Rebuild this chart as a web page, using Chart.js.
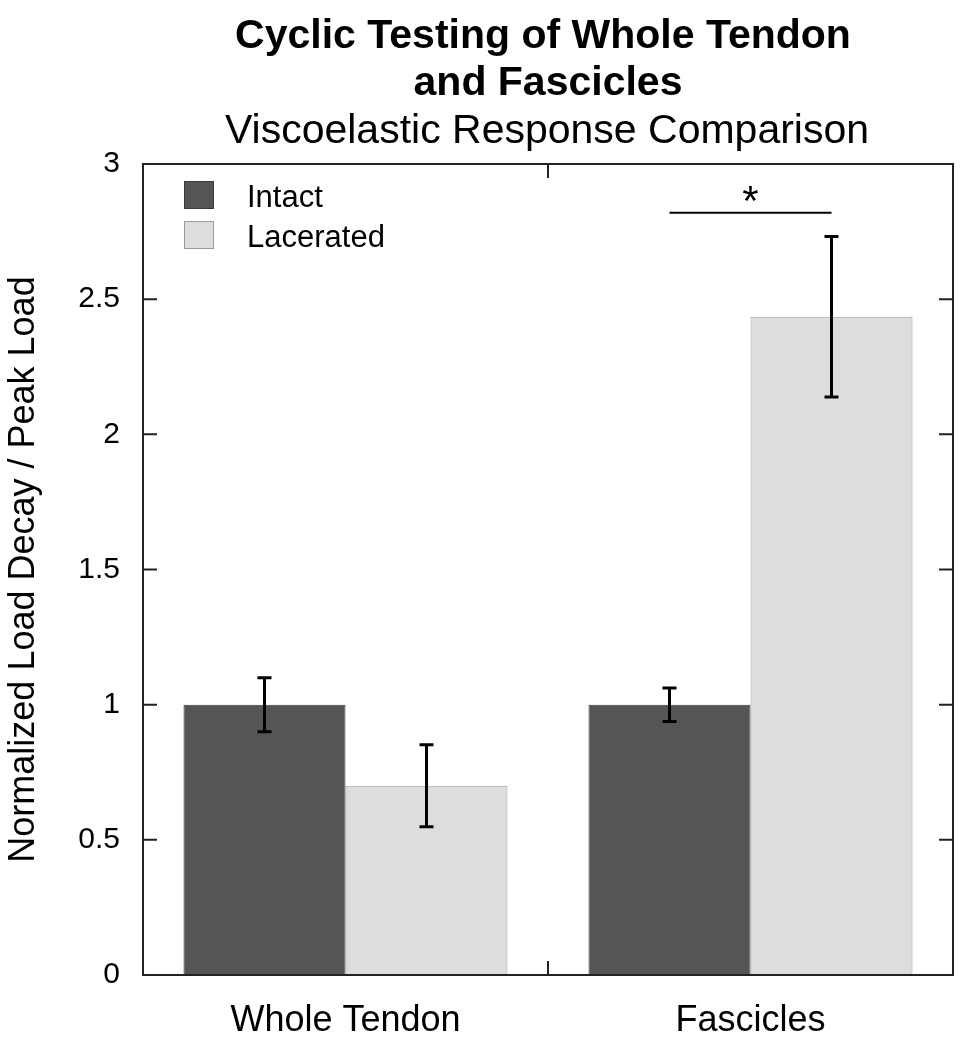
<!DOCTYPE html>
<html>
<head>
<meta charset="utf-8">
<script src="https://cdn.jsdelivr.net/npm/chart.js@4.4.0/dist/chart.umd.min.js"></script>
<style>
  html, body { margin: 0; padding: 0; background: #fff; }
  #wrap { width: 965px; height: 1050px; }
</style>
</head>
<body>
<div id="wrap"><canvas id="cyclicChart" width="965" height="1050"></canvas></div>
<script>
// data
const categories = ["Whole Tendon", "Fascicles"];
const seriesNames = ["Intact", "Lacerated"];
const intactValues = [1.0, 1.0];
const intactErrors = [0.10, 0.062];
const laceratedValues = [0.70, 2.435];
const laceratedErrors = [0.152, 0.297];
const yTicks = [0, 0.5, 1, 1.5, 2, 2.5, 3];
const sigLevel = 2.82; // height of the significance bar over Fascicles

const FONT = "'Liberation Sans', Arial, sans-serif";
const darkFill = "#545557";
const lightFill = "#dcdedd";

const extras = {
  id: "extras",
  afterDraw(chart) {
    const { ctx, chartArea: a, scales } = chart;
    const y = scales.y;
    ctx.save();

    // titles
    ctx.fillStyle = "#000";
    ctx.textAlign = "center";
    ctx.textBaseline = "alphabetic";
    ctx.font = "bold 41px " + FONT;
    ctx.fillText("Cyclic Testing of Whole Tendon", 543, 48);
    ctx.fillText("and Fascicles", 548, 95);
    ctx.font = "41px " + FONT;
    ctx.fillText("Viscoelastic Response Comparison", 547, 143);

    // frame
    ctx.strokeStyle = "#222";
    ctx.lineWidth = 2;
    ctx.strokeRect(a.left, a.top, a.right - a.left, a.bottom - a.top);

    // inward ticks
    ctx.beginPath();
    yTicks.forEach(v => {
      const py = y.getPixelForValue(v);
      ctx.moveTo(a.left, py); ctx.lineTo(a.left + 14, py);
      ctx.moveTo(a.right, py); ctx.lineTo(a.right - 14, py);
    });
    const mid = (a.left + a.right) / 2;
    ctx.moveTo(mid, a.bottom); ctx.lineTo(mid, a.bottom - 14);
    ctx.moveTo(mid, a.top); ctx.lineTo(mid, a.top + 14);
    ctx.stroke();

    // error bars
    const errs = [intactErrors, laceratedErrors];
    const vals = [intactValues, laceratedValues];
    ctx.strokeStyle = "#000";
    ctx.lineWidth = 3;
    chart.data.datasets.forEach((ds, di) => {
      const meta = chart.getDatasetMeta(di);
      meta.data.forEach((bar, i) => {
        const hi = y.getPixelForValue(vals[di][i] + errs[di][i]);
        const lo = y.getPixelForValue(vals[di][i] - errs[di][i]);
        ctx.beginPath();
        ctx.moveTo(bar.x, hi); ctx.lineTo(bar.x, lo);
        ctx.moveTo(bar.x - 7, hi); ctx.lineTo(bar.x + 7, hi);
        ctx.moveTo(bar.x - 7, lo); ctx.lineTo(bar.x + 7, lo);
        ctx.stroke();
      });
    });

    // significance bar
    const b0 = chart.getDatasetMeta(0).data[1];
    const b1 = chart.getDatasetMeta(1).data[1];
    const sy = y.getPixelForValue(sigLevel);
    ctx.lineWidth = 2;
    ctx.beginPath();
    ctx.moveTo(b0.x, sy); ctx.lineTo(b1.x, sy);
    ctx.stroke();
    ctx.font = "42px " + FONT;
    ctx.textAlign = "center";
    ctx.textBaseline = "alphabetic";
    ctx.fillText("*", (b0.x + b1.x) / 2, sy + 2);

    // legend
    const fills = [darkFill, lightFill];
    const edges = ["#3a3a3a", "#9a9a9a"];
    ctx.font = "31px " + FONT;
    ctx.textAlign = "left";
    ctx.textBaseline = "alphabetic";
    seriesNames.forEach((name, i) => {
      const top = 181 + i * 40;
      ctx.fillStyle = fills[i];
      ctx.fillRect(184, top, 30, 28);
      ctx.strokeStyle = edges[i];
      ctx.lineWidth = 1;
      ctx.strokeRect(184.5, top + 0.5, 29, 27);
      ctx.fillStyle = "#000";
      ctx.fillText(name, 247, top + 26);
    });

    ctx.restore();
  }
};

new Chart(document.getElementById("cyclicChart"), {
  type: "bar",
  data: {
    labels: categories,
    datasets: [
      {
        label: seriesNames[0],
        data: intactValues,
        backgroundColor: darkFill,
        borderColor: "#3a3a3a",
        borderWidth: 1,
      },
      {
        label: seriesNames[1],
        data: laceratedValues,
        backgroundColor: lightFill,
        borderColor: "#9a9a9a",
        borderWidth: 1,
      },
    ],
  },
  options: {
    responsive: false,
    animation: false,
    layout: { padding: { top: 164, right: 12, left: 0, bottom: 0 } },
    categoryPercentage: 0.8,
    barPercentage: 1.0,
    plugins: {
      legend: { display: false },
      tooltip: { enabled: false },
    },
    scales: {
      x: {
        grid: { display: false, drawTicks: false },
        border: { display: false },
        ticks: {
          color: "#000",
          font: { family: FONT, size: 36 },
          padding: 24,
        },
        afterFit(s) { s.height = 75; },
      },
      y: {
        min: 0,
        max: 3,
        afterBuildTicks(s) { s.ticks = yTicks.map(v => ({ value: v })); },
        grid: { display: false, drawTicks: false },
        border: { display: false },
        ticks: {
          color: "#000",
          font: { family: FONT, size: 30 },
          padding: 23,
          callback: v => String(v),
        },
        title: {
          display: true,
          text: "Normalized Load Decay / Peak Load",
          color: "#000",
          font: { family: FONT, size: 36 },
          padding: { top: 2, bottom: 0 },
        },
        afterFit(s) { s.width = 143; },
      },
    },
  },
  plugins: [extras],
});
</script>
</body>
</html>
